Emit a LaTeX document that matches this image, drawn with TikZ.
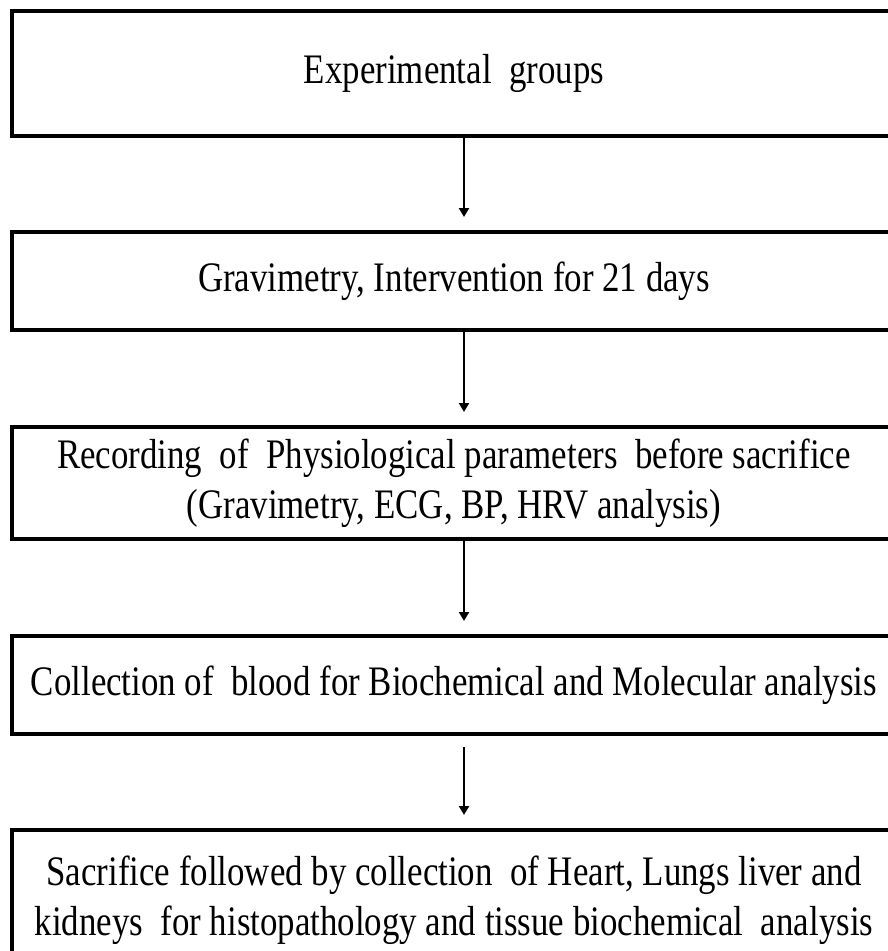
\documentclass[tikz,border=0pt]{standalone}
\usepackage{fontspec}
\setmainfont[FakeStretch=0.83]{Liberation Serif}
\usetikzlibrary{arrows.meta}

\begin{document}
\begin{tikzpicture}[
            x=1pt, y=-1pt,
            stage/.style={
                draw=black,
                line width=4pt,
                minimum width=884pt,
                inner sep=0pt,
                align=center,
                font=\fontsize{42}{50}\selectfont,
            },
            flow/.style={
                -{Triangle[length=9pt,width=10pt]},
                line width=2.8pt,
                shorten >=13pt,
                transform canvas={xshift=10pt},
            }]
        \useasboundingbox (0,0) rectangle (887,951);
        \node[stage, minimum height=125pt] (groups) at (454,73) {Experimental\ \ groups};
        \node[stage, minimum height=98pt] (gravimetry) at (454,281) {Gravimetry, Intervention for 21 days};
        \node[stage, minimum height=112pt] (recording) at (454,483) {Recording\ \ of\ \ Physiological parameters\ \ before sacrifice\\(Gravimetry, ECG, BP, HRV analysis)};
        \node[stage, minimum height=98pt] (blood) at (454,685) {Collection of\ \ blood for Biochemical and Molecular analysis};
        \node[stage, minimum height=140pt] (sacrifice) at (454,900) {Sacrifice followed by collection\ \ of Heart, Lungs liver and\\kidneys\ \ for histopathology and tissue biochemical\ \ analysis};
        \draw[flow] (groups) -- (gravimetry);
        \draw[flow] (gravimetry) -- (recording);
        \draw[flow] (recording) -- (blood);
        \draw[flow, shorten <=11pt] (blood) -- (sacrifice);
        \end{tikzpicture}
\end{document}
